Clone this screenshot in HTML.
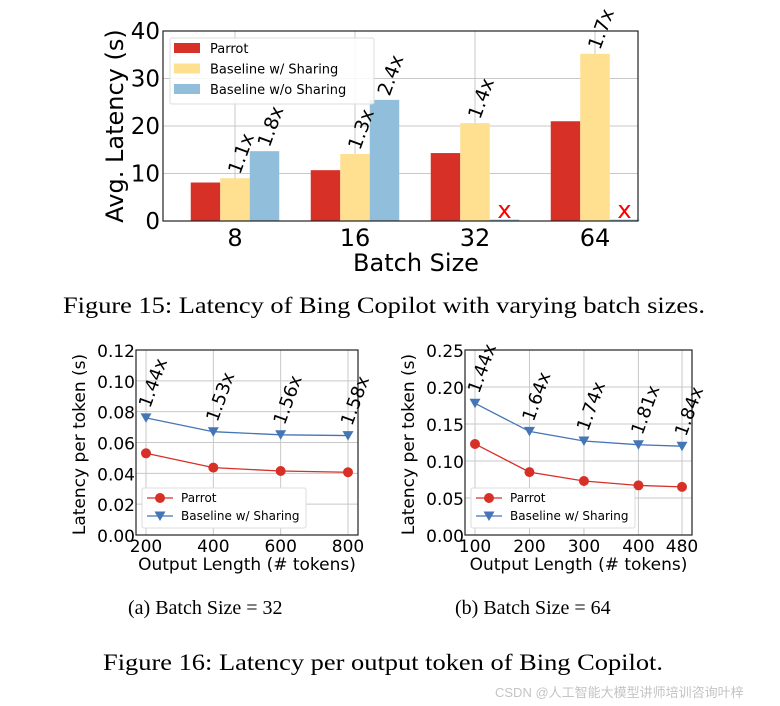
<!DOCTYPE html>
<html><head><meta charset="utf-8">
<style>
body{margin:0;background:#fff;width:780px;height:706px;overflow:hidden}
svg{display:block}
.s{font-family:"DejaVu Sans","Liberation Sans",sans-serif}
.sr{font-family:"Liberation Serif",serif}
</style></head>
<body>
<svg id="svg" width="780" height="706" viewBox="0 0 780 706" xmlns="http://www.w3.org/2000/svg">
<text class="sr" x="63" y="313" font-size="23" textLength="642" lengthAdjust="spacingAndGlyphs">Figure 15: Latency of Bing Copilot with varying batch sizes.</text>
<text class="sr" x="128" y="614" font-size="20">(a) Batch Size = 32</text>
<text class="sr" x="455" y="614" font-size="20">(b) Batch Size = 64</text>
<text class="sr" x="103" y="670" font-size="23" textLength="560" lengthAdjust="spacingAndGlyphs">Figure 16: Latency per output token of Bing Copilot.</text>
<text x="495" y="697" font-size="13" fill="#c4c4c4" font-family="'Liberation Sans','Noto Sans CJK SC',sans-serif">CSDN @人工智能大模型讲师培训咨询叶梓</text>
</svg>
<script>
const NS="http://www.w3.org/2000/svg";
const svg=document.getElementById('svg');
function mk(tag,attrs,parent,txt){const e=document.createElementNS(NS,tag);for(const k in attrs)e.setAttribute(k,attrs[k]);if(txt!==undefined)e.textContent=txt;(parent||svg).appendChild(e);return e;}

// ---- Figure 15 data ----
const batchCats=["8","16","32","64"];
const parrotLat=[8.1,10.7,14.3,21.0];
const sharingLat=[9.0,14.1,20.6,35.2];
const noSharingLat=[14.7,25.5,0.3,0.3];
const sharingLbl=["1.1x","1.3x","1.4x","1.7x"];
const noShareLbl=["1.8x","2.4x","",""];
const oomFlag=[false,false,true,true];
const yTicks15=[0,10,20,30,40];

// ---- Figure 16a data ----
const lenA=[200,400,600,800];
const parrotA=[0.053,0.0437,0.0415,0.0407];
const baseA=[0.076,0.067,0.065,0.0645];
const speedA=["1.44x","1.53x","1.56x","1.58x"];
const yTicksA=[0,0.02,0.04,0.06,0.08,0.10,0.12];
// ---- Figure 16b data ----
const lenB=[100,200,300,400,480];
const parrotB=[0.123,0.085,0.073,0.067,0.065];
const baseB=[0.178,0.140,0.127,0.122,0.120];
const speedB=["1.44x","1.64x","1.74x","1.81x","1.84x"];
const yTicksB=[0,0.05,0.10,0.15,0.20,0.25];

// ===== Figure 15 =====
(function(){
 const L=163,R=638,T=31,B=221,ymax=40;
 const y=v=>B-(v/ymax)*(B-T);
 const cx=i=>235+i*120;
 const bw=29.5;
 const g=mk('g',{},svg);
 
 
 yTicks15.forEach(t=>{
  const gl=mk('line',{x1:L,x2:R,y1:y(t),y2:y(t),stroke:'#c8c8c8','stroke-width':1},g);
  
  
  const tx=mk('text',{x:L-3,y:y(t)+8,'text-anchor':'end','font-size':23,class:'s'},g,String(t));
  
  
 });
 batchCats.forEach((c,i)=>{
  const gl=mk('line',{x1:cx(i),x2:cx(i),y1:T,y2:B,stroke:'#c8c8c8','stroke-width':1},g);
  
  
 });
 const cols=['#d73027','#fee090','#91bfdb'];
 const series=[parrotLat,sharingLat,noSharingLat];
 const names=['parrot','sharing','no-sharing'];
 batchCats.forEach((c,i)=>{
  series.forEach((s,k)=>{
   const x0=cx(i)-1.5*bw+k*bw;
   const r=mk('rect',{x:x0,y:y(s[i]),width:bw,height:B-y(s[i]),fill:cols[k]},g);
   
   
  });
  const lb=[sharingLbl[i],noShareLbl[i]];
  [1,2].forEach(k=>{
   const t=lb[k-1]; if(!t) return;
   const xc=cx(i)-1.5*bw+k*bw+bw/2+5, yt=y(series[k][i])-3;
   const tx=mk('text',{x:xc,y:yt,'font-size':19,class:'s',transform:`rotate(-70 ${xc} ${yt})`},g,t);
   
   
  });
  if(oomFlag[i]){
   const xc=cx(i)+1.5*bw-bw/2;
   const tx=mk('text',{x:xc,y:B-3,'text-anchor':'middle','font-size':24,fill:'#ff0000',class:'s'},g,'x');
   
   
  }
  const xl=mk('text',{x:cx(i),y:B+25,'text-anchor':'middle','font-size':24,class:'s'},g,c);
  
  
 });
 const fr=mk('rect',{x:L,y:T,width:R-L,height:B-T,fill:'none',stroke:'#222','stroke-width':1.2},g);
 
 
 const xt=mk('text',{x:416,y:271,'text-anchor':'middle','font-size':24,class:'s'},g,'Batch Size');
 
 
 const yt=mk('text',{x:123,y:126,'text-anchor':'middle','font-size':24,class:'s',transform:'rotate(-90 123 126)'},g,'Avg. Latency (s)');
 
 
 const lg=mk('g',{},g);
 
 
 mk('rect',{x:170,y:38,width:204,height:66,fill:'#fff','fill-opacity':0.85,stroke:'#ddd',rx:2},lg);
 ['Parrot','Baseline w/ Sharing','Baseline w/o Sharing'].forEach((n,k)=>{
  mk('rect',{x:174,y:43+k*20.5,width:26,height:10,fill:cols[k]},lg);
  const t=mk('text',{x:210,y:53+k*20.5,'font-size':13,class:'s'},lg,n);
  
  
 });
})();

// ===== Line charts =====
function lineChart(o){
 const {L,R,T,B,xs,xmin,xmax,ymax,yTicks,p,b,lbl,name}=o;
 const x=v=>L+10+(v-xmin)/(xmax-xmin)*(R-L-20);
 const y=v=>B-(v/ymax)*(B-T);
 const g=mk('g',{},svg);
 
 
 yTicks.forEach(t=>{
  const gl=mk('line',{x1:L,x2:R,y1:y(t),y2:y(t),stroke:'#c8c8c8'},g);
  
  
  const tx=mk('text',{x:L-1,y:y(t)+7,'text-anchor':'end','font-size':17,class:'s'},g,t.toFixed(2));
  
  
 });
 xs.forEach(v=>{
  const gl=mk('line',{x1:x(v),x2:x(v),y1:T,y2:B,stroke:'#c8c8c8'},g);
  
  
  const tx=mk('text',{x:x(v),y:B+17,'text-anchor':'middle','font-size':17,class:'s'},g,String(v));
  
  
 });
 const fr=mk('rect',{x:L,y:T,width:R-L,height:B-T,fill:'none',stroke:'#222','stroke-width':1.2},g);
 
 
 const pl=mk('polyline',{points:xs.map((v,i)=>x(v)+','+y(p[i])).join(' '),fill:'none',stroke:'#d73027','stroke-width':1.3},g);
 
 
 const bl=mk('polyline',{points:xs.map((v,i)=>x(v)+','+y(b[i])).join(' '),fill:'none',stroke:'#4575b4','stroke-width':1.3},g);
 
 
 xs.forEach((v,i)=>{
  const c=mk('circle',{cx:x(v),cy:y(p[i]),r:5,fill:'#d73027'},g);
  
  
  const X=x(v),Y=y(b[i]);
  const t=mk('polygon',{points:`${X-5.5},${Y-4.5} ${X+5.5},${Y-4.5} ${X},${Y+5}`,fill:'#4575b4'},g);
  
  
  const lx=X+4,ly=Y-9;
  const tx=mk('text',{x:lx,y:ly,'font-size':18,class:'s',transform:`rotate(-70 ${lx} ${ly})`},g,lbl[i]);
  
  
 });
 const lg=mk('g',{},g);
 
 
 mk('rect',{x:L+6,y:488,width:164,height:40,fill:'#fff',stroke:'#ddd',rx:2},lg);
 mk('line',{x1:L+11,x2:L+37,y1:498,y2:498,stroke:'#d73027','stroke-width':1.3},lg);
 mk('circle',{cx:L+24,cy:498,r:5,fill:'#d73027'},lg);
 mk('line',{x1:L+11,x2:L+37,y1:516,y2:516,stroke:'#4575b4','stroke-width':1.3},lg);
 mk('polygon',{points:`${L+18.5},${511.5} ${L+29.5},${511.5} ${L+24},${521}`,fill:'#4575b4'},lg);
 const t1=mk('text',{x:L+45,y:502,'font-size':12,class:'s'},lg,'Parrot');
 
 
 const t2=mk('text',{x:L+45,y:520,'font-size':12,class:'s'},lg,'Baseline w/ Sharing');
 
 
 const xt=mk('text',{x:(L+R)/2,y:570,'text-anchor':'middle','font-size':17,class:'s'},g,'Output Length (# tokens)');
 
 
 const yx=L-51,yy=(T+B)/2+2;
 const yt=mk('text',{x:yx,y:yy,'text-anchor':'middle','font-size':17,class:'s',transform:`rotate(-90 ${yx} ${yy})`},g,'Latency per token (s)');
 
 
}
lineChart({L:136,R:358,T:350,B:535,xs:lenA,xmin:200,xmax:800,ymax:0.12,yTicks:yTicksA,p:parrotA,b:baseA,lbl:speedA,name:'latency-chart-batch-32'});
lineChart({L:465,R:692,T:350,B:535,xs:lenB,xmin:100,xmax:480,ymax:0.25,yTicks:yTicksB,p:parrotB,b:baseB,lbl:speedB,name:'latency-chart-batch-64'});
</script>
</body></html>
